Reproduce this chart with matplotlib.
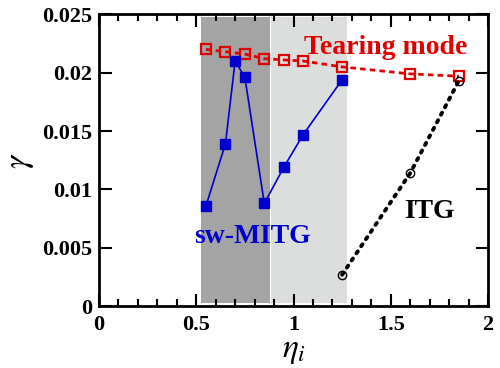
import numpy as np
import matplotlib
matplotlib.use('Agg')
import matplotlib.pyplot as plt
from matplotlib.ticker import MultipleLocator

# sw-MITG growth rate
eta_mitg = [0.55, 0.65, 0.7, 0.75, 0.85, 0.95, 1.05, 1.25]
gam_mitg = [0.0086, 0.0139, 0.0210, 0.0196, 0.0088, 0.0119, 0.0147, 0.0194]

# tearing mode
eta_tm = [0.55, 0.65, 0.75, 0.85, 0.95, 1.05, 1.25, 1.6, 1.85]
gam_tm = [0.0220, 0.0218, 0.0216, 0.0212, 0.0211, 0.0210, 0.0205, 0.0199, 0.0197]

# ITG
eta_itg = [1.25, 1.6, 1.85]
gam_itg = [0.0027, 0.0114, 0.0193]

# shaded bands
dark_band = [0.524, 0.879]
light_band = [0.884, 1.275]

plt.rcParams['font.family'] = ['Liberation Serif', 'DejaVu Serif']
plt.rcParams['mathtext.fontset'] = 'stix'

fig = plt.figure(figsize=(5, 3.68), dpi=100)
ax = fig.add_axes([0.198, 0.168, 0.778, 0.793])

ax.fill_between(dark_band, 0.0003, 0.0248, color='#a4a4a4', lw=0, zorder=0)
ax.fill_between(light_band, 0.0003, 0.0248, color='#dcdddd', lw=0, zorder=0)

ax.plot(eta_tm, gam_tm, color='#e00000', ls=(0, (2, 1.5)), lw=2, marker='s',
        ms=7, mfc='none', mec='#e00000', mew=1.6, zorder=2)
ax.plot(eta_mitg, gam_mitg, color='#0000cc', lw=1.2, marker='s', ms=7.5,
        mfc='#0000cc', mec='#0000cc', zorder=3)
ax.plot(eta_itg, gam_itg, color='black', ls=(0, (0.6, 1.6)), lw=2.8,
        dash_capstyle='round', marker='o', ms=6, mfc='none', mec='black',
        mew=1.0, zorder=2)

ax.text(1.476, 0.0222, 'Tearing mode', color='#e00000', fontsize=20,
        fontweight='bold', ha='center', va='center')
ax.text(1.697, 0.0081, 'ITG', color='black', fontsize=20,
        fontweight='bold', ha='center', va='center')
ax.text(0.787, 0.0060, 'sw-MITG', color='#0000cc', fontsize=20,
        fontweight='bold', ha='center', va='center')

ax.set_xlim(0, 2)
ax.set_ylim(0, 0.025)
ax.xaxis.set_major_locator(MultipleLocator(0.5))
ax.xaxis.set_minor_locator(MultipleLocator(0.1))
ax.yaxis.set_major_locator(MultipleLocator(0.005))
ax.set_xticks([0, 0.5, 1, 1.5, 2])
ax.set_xticklabels(['0', '0.5', '1', '1.5', '2'])
ax.set_yticks([0, 0.005, 0.01, 0.015, 0.02, 0.025])
ax.set_yticklabels(['0', '0.005', '0.01', '0.015', '0.02', '0.025'])

ax.tick_params(which='both', direction='in', top=True, right=True,
               labelsize=16, width=1.5)
ax.tick_params(which='major', length=9)
ax.tick_params(which='minor', length=5)
ax.tick_params(axis='x', pad=6)
ax.tick_params(axis='y', pad=5)
for lab in ax.get_xticklabels() + ax.get_yticklabels():
    lab.set_fontweight('bold')
for s in ax.spines.values():
    s.set_linewidth(2)

ax.set_xlabel(r'$\eta_i$', fontsize=24, labelpad=1)
ax.set_ylabel(r'$\gamma$', fontsize=24, labelpad=4)

fig.savefig('out.png', dpi=100)
